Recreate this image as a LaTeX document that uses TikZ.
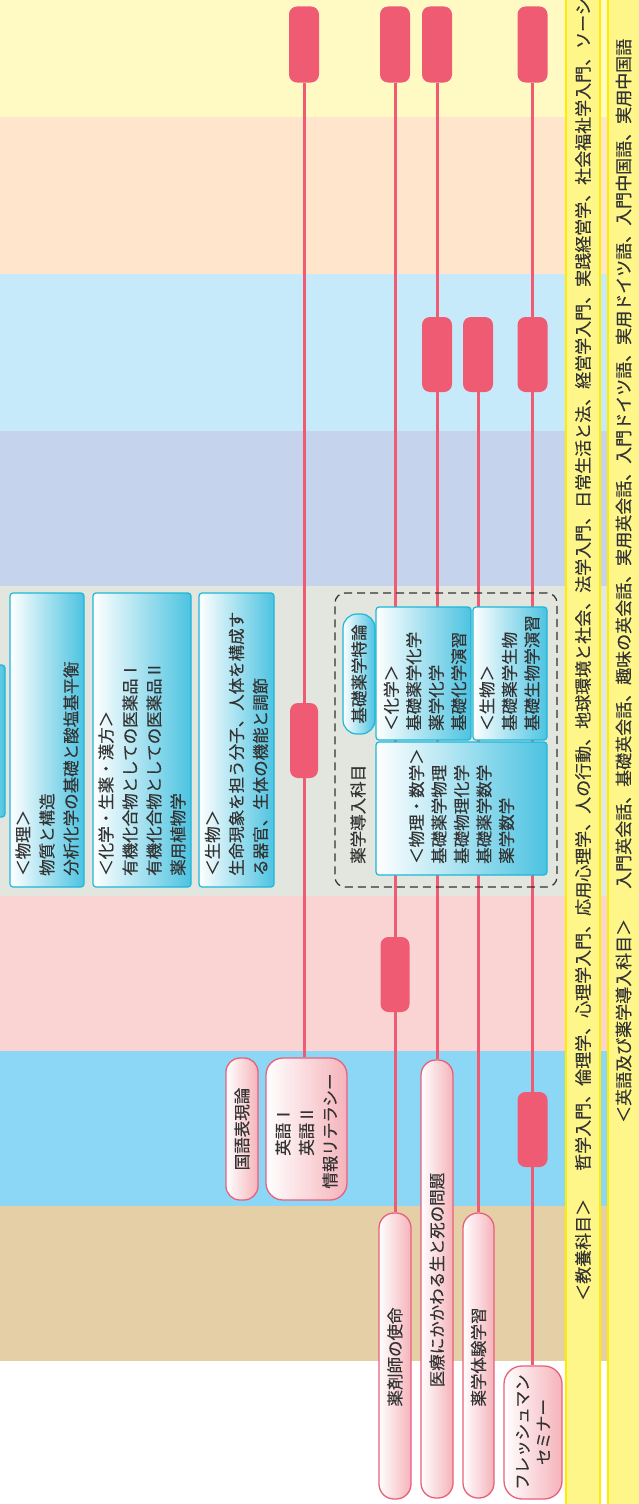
\documentclass[tikz,border=0pt]{standalone}
\usepackage{fontspec}
\setmainfont{Noto Sans CJK JP}[FakeBold=0.2]
\pgfdeclarelayer{bands}
\pgfdeclarelayer{lines}
\pgfsetlayers{bands,lines,main}
\definecolor{bandA}{HTML}{FFFAC4}
\definecolor{bandB}{HTML}{FFE5CB}
\definecolor{bandC}{HTML}{C7EAFA}
\definecolor{bandD}{HTML}{C6D3EC}
\definecolor{bandE}{HTML}{E2E6DF}
\definecolor{bandF}{HTML}{FAD4D2}
\definecolor{bandG}{HTML}{8DD7F6}
\definecolor{bandH}{HTML}{E5CFA7}
\definecolor{stripfill}{HTML}{FFF68A}
\definecolor{stripline}{HTML}{FFEC00}
\definecolor{redc}{HTML}{F05B74}
\definecolor{cyanline}{HTML}{1CB7D9}
\definecolor{cyanfill}{HTML}{4CC3E1}
\definecolor{pinkline}{HTML}{E9607A}
\definecolor{pinkfill}{HTML}{F5B3BA}
\definecolor{txtc}{HTML}{333333}
\definecolor{dashc}{HTML}{333333}
\tikzset{
 redpill/.style={fill=redc, draw=none, rounded corners=8pt, minimum width=30pt, inner sep=0pt},
 bluebox/.style={draw=cyanline, line width=1.2pt, left color=white, right color=cyanfill, rounded corners=3pt, inner sep=0pt},
 pinkbox/.style={draw=pinkline, line width=1.3pt, left color=white, right color=pinkfill, rounded corners=15pt, inner sep=0pt},
 rline/.style={draw=redc, line width=3pt},
 vtxt/.style={rotate=90, inner sep=0pt, text=txtc, font=\fontsize{16.5}{24}\selectfont},
 vtxtb/.style={rotate=90, inner sep=0pt, text=txtc, font=\fontsize{16.5}{22.5}\selectfont},
 striptxt/.style={rotate=90, inner sep=0pt, text=txtc, font=\fontsize{17}{20}\selectfont, anchor=west},
}
\begin{document}
\begin{tikzpicture}[x=1pt,y=-1pt]
\useasboundingbox (0,0) rectangle (639,1504);
\begin{pgfonlayer}{bands}
\fill[white] (0,0) rectangle (639,1504);
\fill[bandA] (0,0) rectangle (608,117);
\fill[bandB] (0,117) rectangle (608,274);
\fill[bandC] (0,274) rectangle (608,431);
\fill[bandD] (0,431) rectangle (608,586);
\fill[bandE] (0,586) rectangle (608,896);
\fill[bandF] (0,896) rectangle (608,1051);
\fill[bandG] (0,1051) rectangle (608,1206);
\fill[bandH] (0,1206) rectangle (608,1361);
\fill[stripfill] (566,-2) rectangle (600,1506);
\draw[stripline, line width=1.5pt] (566,-2) -- (566,1506) (600,-2) -- (600,1506);
\fill[stripfill] (608,-2) rectangle (642,1506);
\draw[stripline, line width=1.5pt] (608,-2) -- (608,1506);
\end{pgfonlayer}

% red pills
\node[redpill, minimum height=76pt] (t1) at (304,44.5) {};
\node[redpill, minimum height=76pt] (t2) at (395,44.5) {};
\node[redpill, minimum height=76pt] (t3) at (437,44.5) {};
\node[redpill, minimum height=76pt] (t4) at (532.5,44.5) {};
\node[redpill, minimum height=75pt] (m3) at (437,354.5) {};
\node[redpill, minimum height=75pt] (m4) at (478,354.5) {};
\node[redpill, minimum height=75pt] (m5) at (532.5,354.5) {};
\node[redpill, minimum height=75pt, minimum width=28pt] (g1) at (304,740.5) {};
\node[redpill, minimum height=75pt, minimum width=29pt] (k1) at (395,974.5) {};
\node[redpill, minimum height=75pt] (b1) at (532.5,1129.5) {};

% left blue boxes
\node[bluebox, minimum width=45pt, minimum height=152pt] (part) at (-17.5,741) {};
\node[bluebox, minimum width=74pt, minimum height=294pt] (phys) at (47,740) {};
\node[bluebox, minimum width=98pt, minimum height=294pt] (chem) at (142,740) {};
\node[bluebox, minimum width=75pt, minimum height=294pt] (bio) at (236.5,740) {};
\node[vtxt, anchor=west, align=left] (physt) at (47,876) {＜物理＞\\物質と構造\\分析化学の基礎と酸塩基平衡};
\node[vtxt, anchor=west, align=left] (chemt) at (142,876) {＜化学・生薬・漢方＞\\有機化合物としての医薬品Ⅰ\\有機化合物としての医薬品Ⅱ\\薬用植物学};
\node[vtxt, anchor=west, align=left] (biot) at (236.5,876) {＜生物＞\\生命現象を担う分子、人体を構成す\\る器官、生体の機能と調節};

% dashed group
\node[draw=dashc, line width=1.2pt, dash pattern=on 8pt off 5pt, rounded corners=10pt, minimum width=222pt, minimum height=294pt, inner sep=0pt] (grp) at (446,740) {};
\node[bluebox, rounded corners=14pt, minimum width=32pt, minimum height=120pt] (tok) at (359,674) {};
\node[vtxtb] (tokt) at (359,674) {基礎薬学特論};
\node[bluebox, minimum width=95pt, minimum height=133pt] (dchem) at (423.5,673.5) {};
\node[bluebox, minimum width=74pt, minimum height=133pt] (dbio) at (510,673.5) {};
\node[bluebox, minimum width=171pt, minimum height=133pt] (dphys) at (461.5,808.5) {};
\node[vtxtb, anchor=west, align=left] (dchemt) at (425,731) {＜化学＞\\基礎薬学化学\\薬学化学\\基礎化学演習};
\node[vtxtb, anchor=west, align=left] (dbiot) at (509.5,731) {＜生物＞\\基礎薬学生物\\基礎生物学演習};
\node[vtxtb, anchor=west, align=left] (dphyst) at (461.5,864) {＜物理・数学＞\\基礎薬学物理\\基礎物理化学\\基礎薬学数学\\薬学数学};
\node[vtxtb, anchor=west] (grpt) at (358,864) {薬学導入科目};

% pink boxes
\node[pinkbox, rounded corners=14pt, minimum width=32pt, minimum height=142pt] (koku) at (242,1129) {};
\node[pinkbox, rounded corners=17pt, minimum width=81pt, minimum height=142pt] (eigo) at (306.5,1129) {};
\node[pinkbox, minimum width=32pt, minimum height=286pt] (yak) at (395,1356) {};
\node[pinkbox, minimum width=32pt, minimum height=438pt] (iryo) at (437,1279) {};
\node[pinkbox, minimum width=31pt, minimum height=285pt] (taik) at (478.5,1355.5) {};
\node[pinkbox, rounded corners=18pt, minimum width=58pt, minimum height=133pt] (fresh) at (533,1432.5) {};
\node[vtxtb] (kokut) at (242,1129) {国語表現論};
\node[vtxt, align=center, font=\fontsize{16.5}{23.5}\selectfont] (eigot) at (306.5,1131) {英語Ⅰ\\英語Ⅱ\\情報リテラシー};
\node[vtxtb] (yakt) at (395,1357) {薬剤師の使命};
\node[vtxtb] (iryot) at (437,1280) {医療にかかわる生と死の問題};
\node[vtxtb] (taikt) at (478.5,1357) {薬学体験学習};
\node[vtxt, align=center, font=\fontsize{16.5}{21}\selectfont] (fresht) at (533,1432) {フレッシュマン\\セミナー};

% strips text
\node[striptxt] (s1) at (583,1301) {＜教養科目＞\hspace{28pt}哲学入門、倫理学、心理学入門、応用心理学、人の行動、地球環境と社会、法学入門、日常生活と法、経営学入門、実践経営学、社会福祉学入門、ソーシ};
\node[striptxt] (s2) at (623.5,1123) {＜英語及び薬学導入科目＞\hspace{30pt}入門英会話、基礎英会話、趣味の英会話、実用英会話、入門ドイツ語、実用ドイツ語、入門中国語、実用中国語};

% connectors
\begin{pgfonlayer}{lines}
\draw[rline] (t1.south) -- (t1.south |- eigo.north);
\draw[rline] (t2.south) -- (t2.south |- yak.north);
\draw[rline] (t3.south) -- (t3.south |- iryo.north);
\draw[rline] (m4.south) -- (m4.south |- taik.north);
\draw[rline] (t4.south) -- (t4.south |- fresh.north);
\end{pgfonlayer}
\end{tikzpicture}
\end{document}
